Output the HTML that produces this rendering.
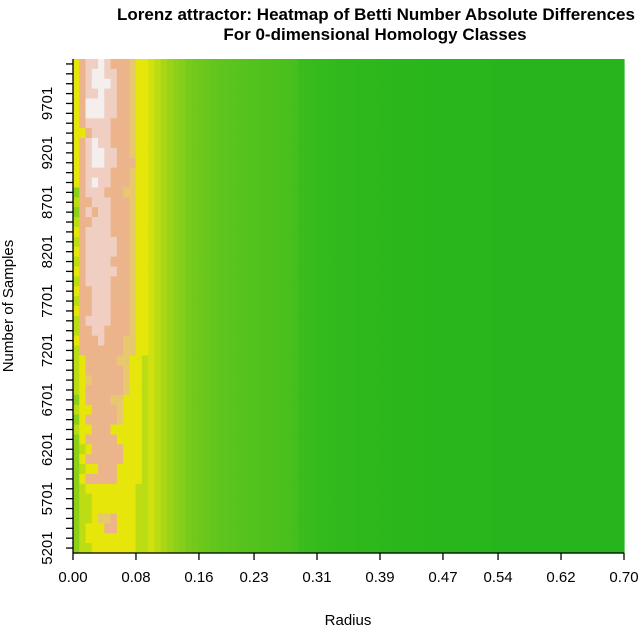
<!DOCTYPE html>
<html><head><meta charset="utf-8"><style>
html,body{margin:0;padding:0;background:#fff;}
svg{display:block;font-family:"Liberation Sans",sans-serif;}
</style></head><body>
<svg id="chart" width="640" height="628" viewBox="0 0 640 628">
<text x="376" y="20" text-anchor="middle" font-size="17" font-weight="bold">Lorenz attractor: Heatmap of Betti Number Absolute Differences</text>
<text x="375" y="40" text-anchor="middle" font-size="17" font-weight="bold">For 0-dimensional Homology Classes</text>
<g id="cells"></g>
<g id="axes"></g>
<text x="348" y="625" text-anchor="middle" font-size="15">Radius</text>
<text x="0" y="0" transform="translate(13,306) rotate(-90)" text-anchor="middle" font-size="15">Number of Samples</text>
</svg>
<script>
// Data (top row = largest sample count)
const rowStarts = [5201, 100, 50]; // first sample count, step, row count
const leftCols = [
"578898777655","578998877655","578999877655","578898877655",
"579998877655","579998877655","578888777655","557888777655",
"578988777655","578998877655","578998877755","578888777655",
"578988777655","378887776655","477888777655","378788777655",
"477888777655","578888777655","478888877655","578888877655",
"478888777655","578888877655","478888777655","577888777655",
"477888777655","577888777655","478888777655","477887777655",
"577787776655","477777776655","457777766554","457777776554",
"456777776554","457777776554","357777665554","455777765554",
"357777765554","455777555554","357777755554","345777775554",
"357777775554","345577755554","357777755554","345555555544",
"344555555544","344555555544","344566755544","345557755544",
"345555555544","344555555544"];
const rightProfile = [4.5,4.0,3.6,3.3,3.0,2.8,2.6,2.45,2.35,2.25,2.15,2.05,2.0,1.95,1.9,1.85,1.8,1.75,1.7,1.65,1.6,1.55,1.5,1.45,
1.15,1.1,1.05,1.0,0.95,0.9,0.85,0.8,0.75,0.72,0.7,0.66,0.62,0.58,0.55,0.52,0.5,0.47,0.44,0.42,0.4,0.38,0.36,0.34,0.32,0.3,
0.3,0.28,0.27,0.26,0.25,0.24,0.23,0.22,0.21,0.2,0.2,0.2,0.2,0.2,0.2,0.2,0.2,0.2,0.2,0.2,0.2,0.2,0.2,0.2,0.2,0.2];
const xTicks = [0.00,0.08,0.16,0.23,0.31,0.39,0.47,0.54,0.62,0.70];
const yLabels = [5201,5701,6201,6701,7201,7701,8201,8701,9201,9701];
const palette = ["#22b41c","#34ba1c","#5cc41c","#8cd01a","#bcdc14","#e6e60a","#e8c86e","#ebb48a","#f0cfc2","#f4eeec"];

const L=73,R=624,T=59,B=553;
const nRows=rowStarts[2], nCols=leftCols[0].length+rightProfile.length;
const colW=(R-L)/nCols, rowH=(B-T)/nRows;
const xs=v=>L+v/0.70*(R-L);
const ys=s=>B-((s-rowStarts[0])/rowStarts[1]+0.5)*rowH;
function hex(c){return [1,3,5].map(i=>parseInt(c.substr(i,2),16));}
function col(v){v=Math.max(0,Math.min(9,v));const i=Math.floor(v),f=v-i;const a=hex(palette[i]),b=hex(palette[Math.min(9,i+1)]);
return "rgb("+a.map((x,k)=>Math.round(x+(b[k]-x)*f)).join(",")+")";}
const NS="http://www.w3.org/2000/svg";
const g=document.getElementById("cells");
for(let r=0;r<nRows;r++){
  const s=leftCols[r];
  for(let c=0;c<nCols;c++){
    const v=c<s.length?+s[c]:rightProfile[c-s.length];
    const e=document.createElementNS(NS,"rect");
    
    
    e.setAttribute("x",(L+c*colW).toFixed(2));e.setAttribute("y",(T+r*rowH).toFixed(2));
    e.setAttribute("width",(colW+0.6).toFixed(2));e.setAttribute("height",(rowH+0.6).toFixed(2));
    e.setAttribute("fill",col(v));g.appendChild(e);
  }
}
const ax=document.getElementById("axes");
function line(x1,y1,x2,y2,n){const e=document.createElementNS(NS,"line");


e.setAttribute("x1",x1);e.setAttribute("y1",y1);e.setAttribute("x2",x2);e.setAttribute("y2",y2);
e.setAttribute("stroke","#000");e.setAttribute("stroke-width","1.3");ax.appendChild(e);}
function text(x,y,t,n,rot){const e=document.createElementNS(NS,"text");


e.setAttribute("font-size","15");e.setAttribute("text-anchor","middle");
if(rot){e.setAttribute("transform","translate("+x+","+y+") rotate(-90)");e.setAttribute("x",0);e.setAttribute("y",0);}
else{e.setAttribute("x",x);e.setAttribute("y",y);}
e.textContent=t;ax.appendChild(e);}
line(L,B,R,B,"x-axis-line");line(L,T,L,B,"y-axis-line");
xTicks.forEach(v=>{line(xs(v),B,xs(v),B+7,"x-tick");text(xs(v),B+29,v.toFixed(2),"x-tick-label");});
for(let r=0;r<nRows;r++){const s=rowStarts[0]+r*rowStarts[1];line(L-7,ys(s),L,ys(s),"y-tick");}
yLabels.forEach(s=>text(52,ys(s),String(s),"y-tick-label",true));
</script>
</body></html>
